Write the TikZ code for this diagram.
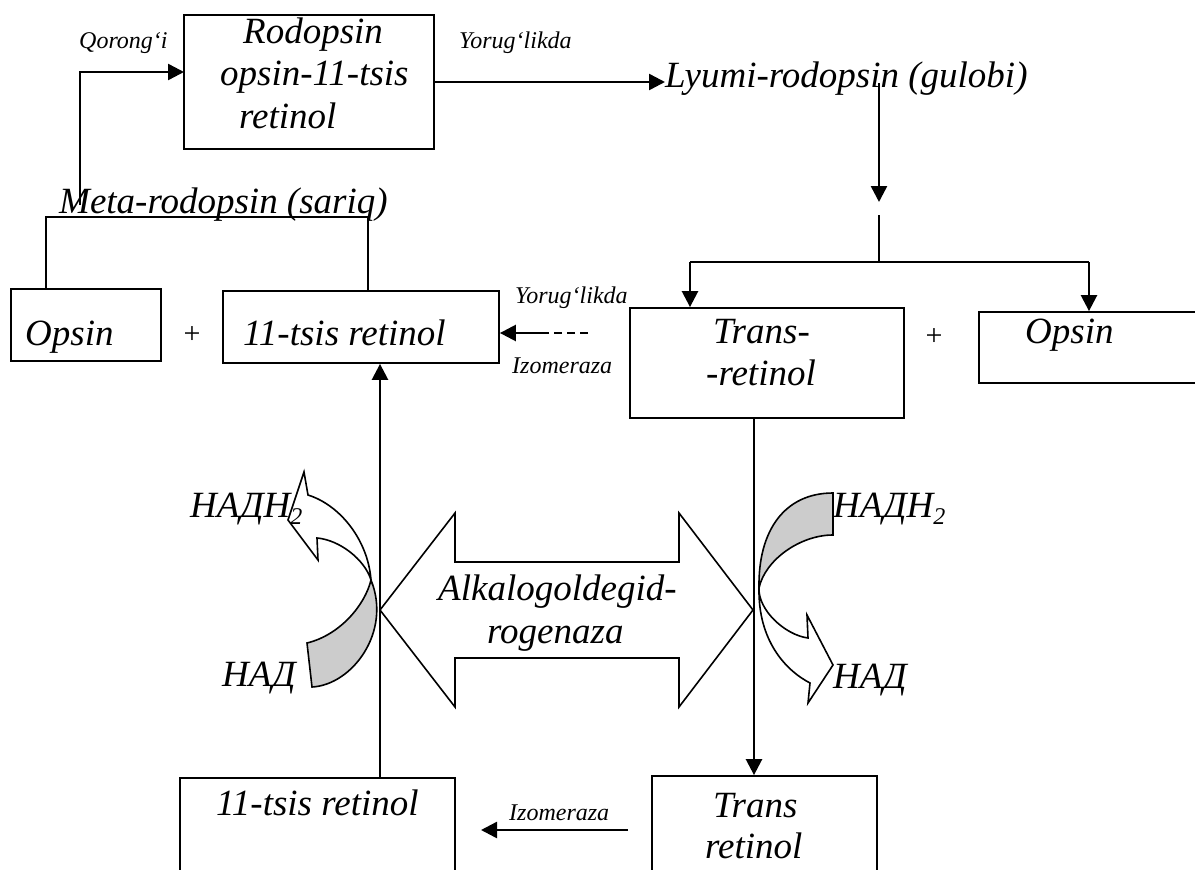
\documentclass[tikz,border=0pt]{standalone}
\usepackage{fontspec}
\setmainfont{Liberation Serif}
\usetikzlibrary{arrows.meta}
\definecolor{bandgray}{RGB}{204,204,204}
\begin{document}
\begin{tikzpicture}[x=1pt,y=-1pt,
  box/.style={draw, line width=1.8pt, rectangle, inner sep=0pt},
  big/.style={inner sep=0pt, anchor=base west, font=\fontsize{37}{42}\selectfont\itshape},
  small/.style={inner sep=0pt, anchor=base west, font=\fontsize{24}{28}\selectfont\itshape},
  plus/.style={inner sep=0pt, font=\fontsize{30}{30}\selectfont},
  arr/.style={line width=2.5pt, -{Triangle[length=16pt,width=16pt]}},
  ln/.style={line width=2pt},
  shp/.style={line width=1.6pt, line join=miter}]
\useasboundingbox (0,0) rectangle (1195,870);
\clip (0,0) rectangle (1195,870);

% boxes
\node[box, minimum width=250pt, minimum height=134pt] (rod) at (309,82) {};
\node[box, minimum width=150pt, minimum height=72pt] (opsL) at (86,325) {};
\node[box, minimum width=276pt, minimum height=72pt] (tsis) at (361,327) {};
\node[box, minimum width=274pt, minimum height=110pt] (transA) at (767,363) {};
\node[box, minimum width=231pt, minimum height=71pt] (opsR) at (1094.5,347.5) {};
\node[box, minimum width=275pt, minimum height=122pt] (tsisB) at (317.5,839) {};
\node[box, minimum width=225pt, minimum height=124pt] (transB) at (764.5,838) {};

% double arrow
\draw[shp, fill=white] (380,610) -- (455,513) -- (455,562) -- (679,562) -- (679,513)
  -- (753,610) -- (679,707) -- (679,658) -- (455,658) -- (455,707) -- cycle;

% left curved arrow
\fill[bandgray] (307,643) .. controls (340,635) and (365,605) .. (371,580)
  .. controls (392,632) and (352,685) .. (312,687) -- cycle;
\draw[shp] (307,643) .. controls (340,635) and (365,605) .. (371,580)
  .. controls (392,632) and (352,685) .. (312,687) -- cycle;
\draw[shp, fill=white] (371,580) .. controls (368,540) and (340,505) .. (308,495)
  -- (304,472) -- (288,520) -- (318,560) -- (317,538)
  .. controls (340,540) and (365,560) .. (371,580) -- cycle;

% right curved arrow
\draw[shp, fill=bandgray] (833,493) .. controls (785,493) and (758,530) .. (759,588)
  .. controls (765,560) and (800,535) .. (833,535) -- cycle;
\draw[shp, fill=white] (759,588) .. controls (758,640) and (785,670) .. (810,683)
  -- (808,703) -- (833,665) -- (807,615) -- (808,638)
  .. controls (785,635) and (758,610) .. (759,588) -- cycle;

% texts
\node[small] (qor) at (79,48) {Qorong‘i};
\node[big] (t1) at (243,43) {Rodopsin};
\node[big] (t2) at (220,85) {opsin-11-tsis};
\node[big] (t3) at (239,128) {retinol};
\node[small] (yor1) at (459,48) {Yorug‘likda};
\node[big] (lyumi) at (665,87) {Lyumi-rodopsin (gulobi)};
\node[big] (meta) at (59,213) {Meta-rodopsin (sariq)};
\node[big] (opsLt) at (25,345) {Opsin};
\node[plus] (p1) at (192,335) {+};
\node[big] (tsist) at (243,345) {11-tsis retinol};
\node[small] (yor2) at (515,303) {Yorug‘likda};
\node[small] (izo1) at (512,373) {Izomeraza};
\node[big] (tr1) at (713,343) {Trans-};
\node[big] (tr2) at (706,385) {-retinol};
\node[plus] (p2) at (934,337) {+};
\node[big] (opsRt) at (1025,343) {Opsin};
\node[big] (nadh1) at (190,517) {НАДН\raisebox{-7pt}{\fontsize{24}{24}\selectfont 2}};
\node[big] (nadh2) at (833,517) {НАДН\raisebox{-7pt}{\fontsize{24}{24}\selectfont 2}};
\node[big] (nad1) at (222,686) {НАД};
\node[big] (nad2) at (833,688) {НАД};
\node[big] (alk1) at (438,600) {Alkalogoldegid-};
\node[big] (alk2) at (487,643) {rogenaza};
\node[small] (izo2) at (509,820) {Izomeraza};
\node[big] (tsisBt) at (216,815) {11-tsis retinol};
\node[big] (trB1) at (713,817) {Trans};
\node[big] (trB2) at (705,858) {retinol};

% top connectors
\coordinate (q0) at (80,205);
\coordinate (q1) at (184,72);
\draw[arr] (q0) |- (q1);
\draw[arr] (rod.east) -- (rod.east -| lyumi.west);
\coordinate (v1) at (879,83);
\coordinate (v2) at (879,202);
\draw[arr] (v1) -- (v2);
\coordinate (v3) at (879,215);
\coordinate (v4) at (879,262);
\draw[ln] (v3) -- (v4);
\coordinate (hL) at (690,262);
\coordinate (hR) at (1089,262);
\draw[ln] (hL) -- (hR);
\draw[arr] (hL) -- (hL |- transA.north);
\draw[arr] (hR) -- (hR |- opsR.north);

% meta-rodopsin bracket
\coordinate (mL) at (46,217);
\coordinate (mR) at (368,217);
\draw[ln] (opsL.north -| mL) -- (mL) -- (mR) -- (tsis.north -| mR);

% dashed izomeraza arrow
\coordinate (d0) at (588,333);
\coordinate (d1) at (518,333);
\coordinate (d2) at (543,333);
\draw[ln, dash pattern=on 8pt off 5pt] (d0) -- (d1);
\draw[arr] (d2) -- (tsis.east |- d2);

% vertical lines
\coordinate (lv) at (380,778);
\draw[arr] (lv) -- (lv |- tsis.south);
\coordinate (rv) at (754,418);
\draw[arr] (rv) -- (rv |- transB.north);

% bottom izomeraza arrow
\coordinate (b0) at (628,830);
\coordinate (b1) at (481,830);
\draw[arr] (b0) -- (b1);
\end{tikzpicture}
\end{document}
